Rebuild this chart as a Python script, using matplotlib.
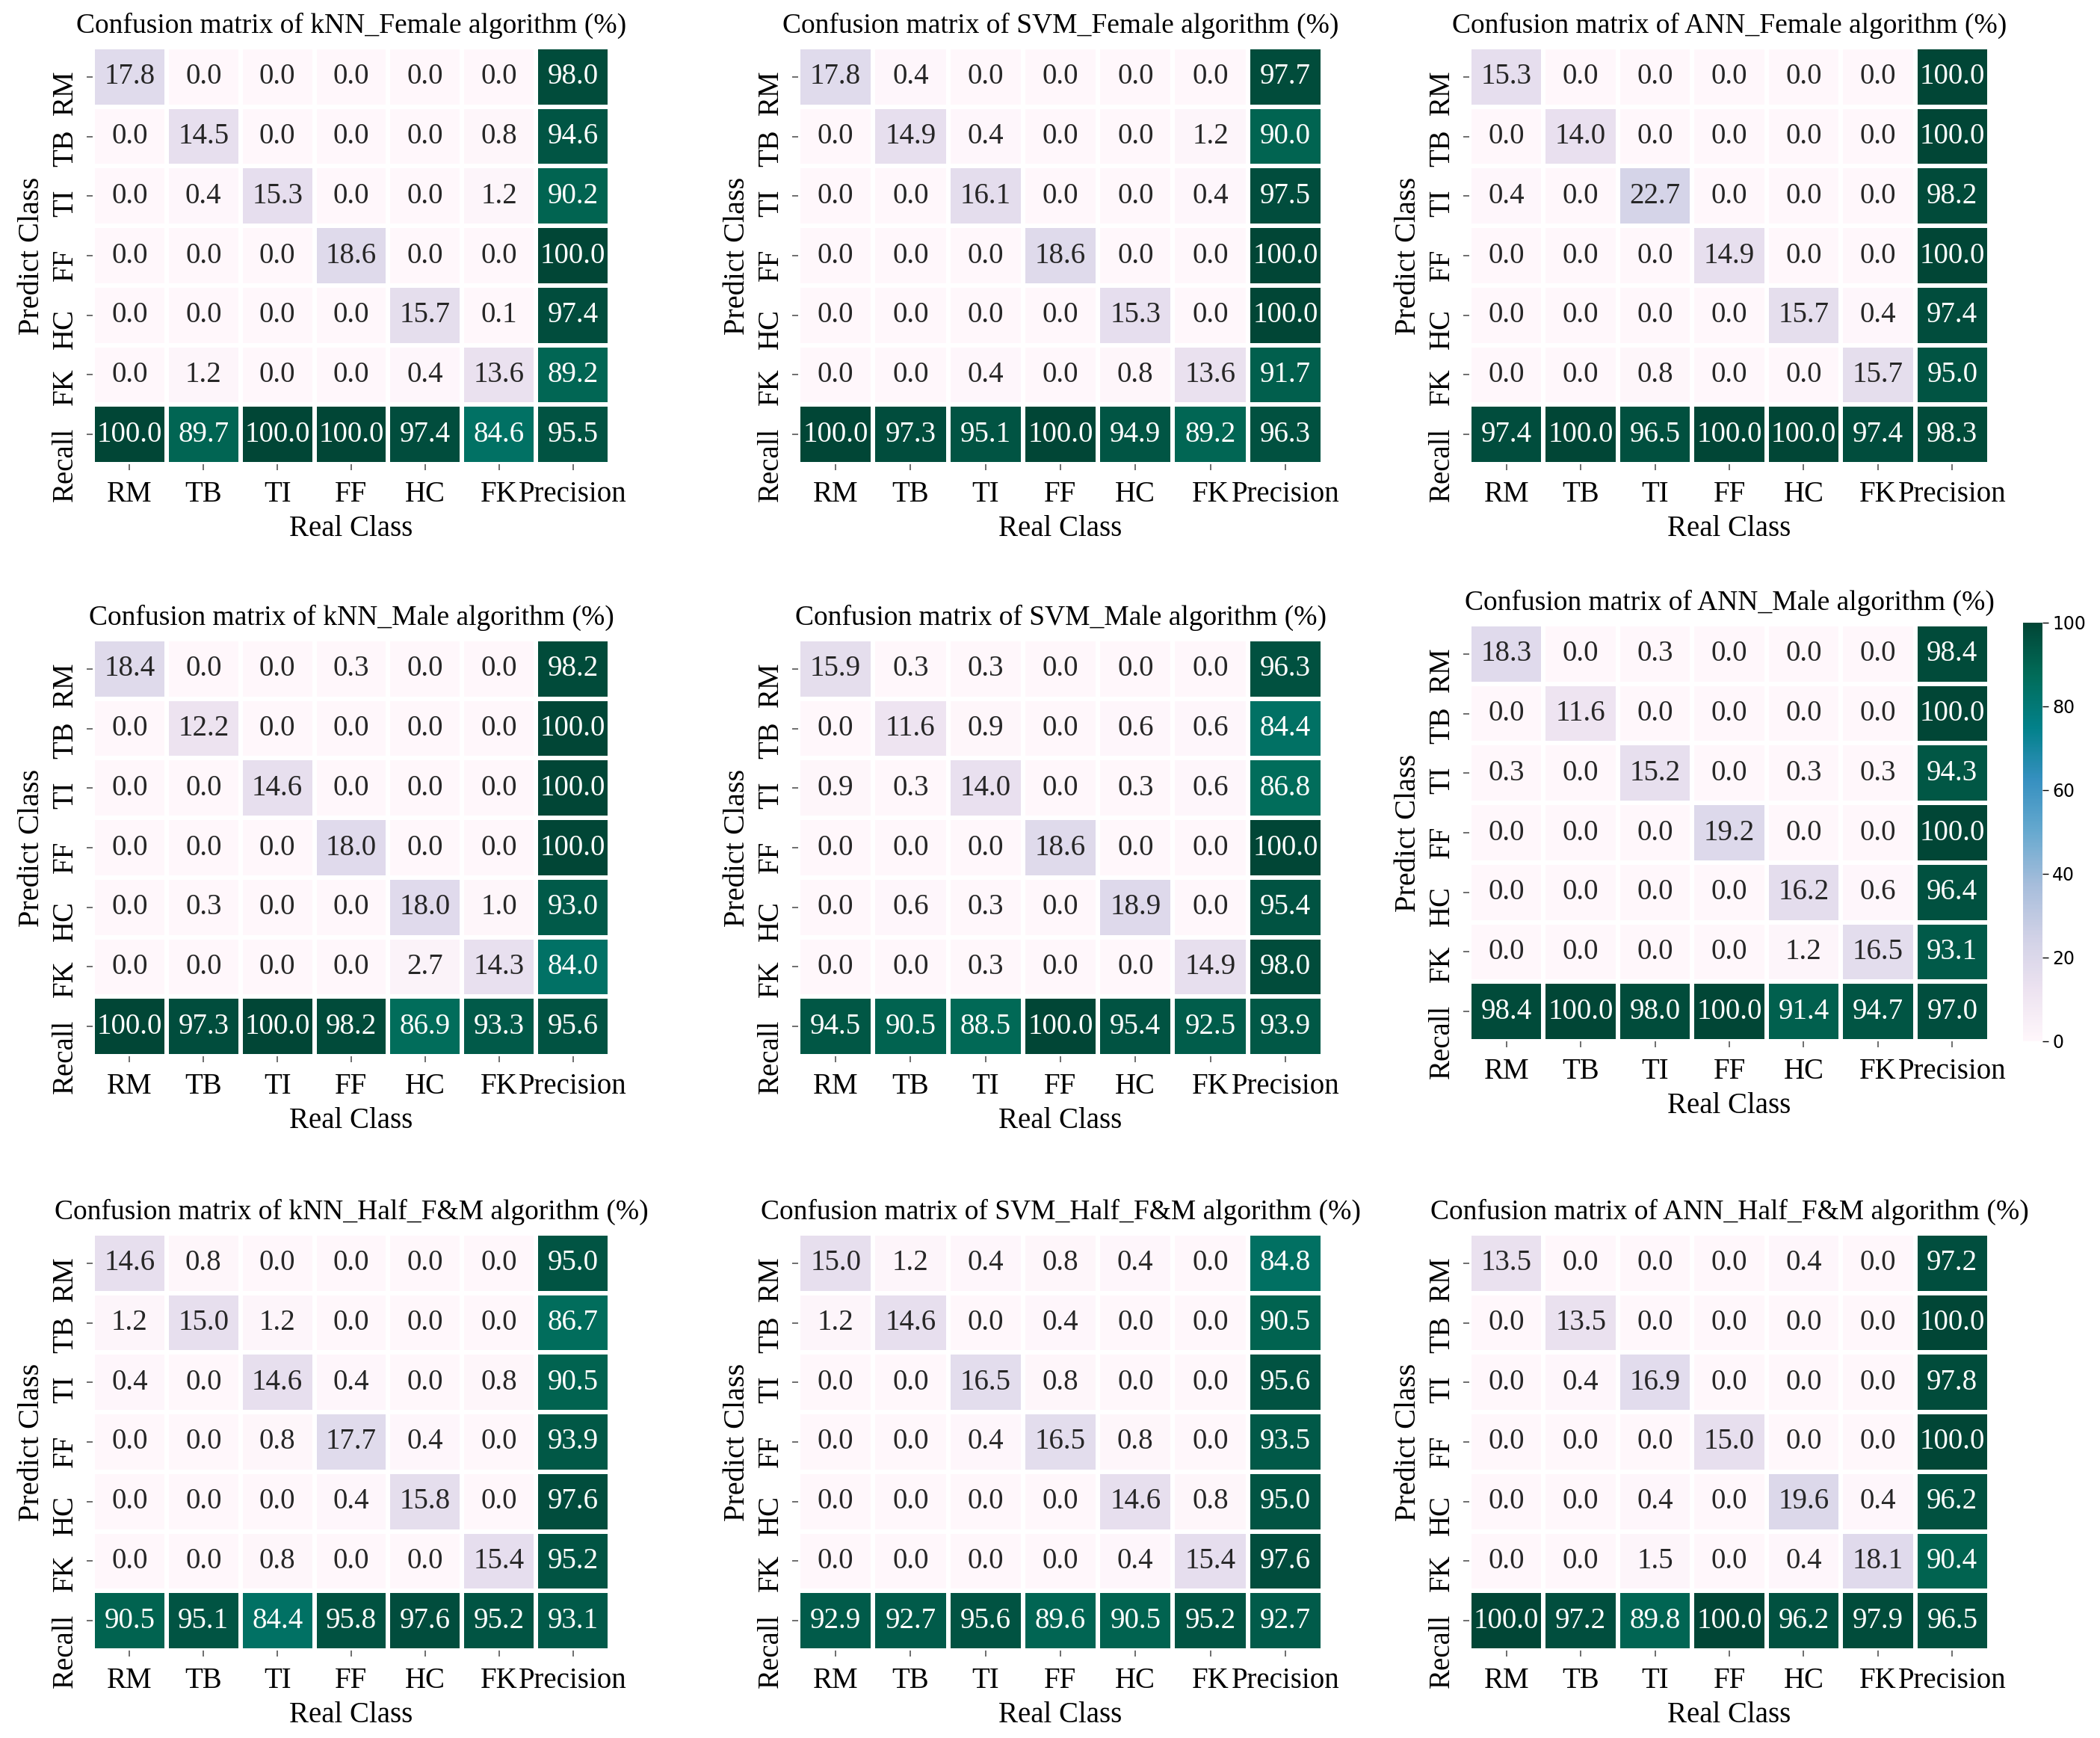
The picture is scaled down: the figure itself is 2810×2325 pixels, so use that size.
import numpy as np
import matplotlib
matplotlib.use("Agg")
import matplotlib.pyplot as plt
import matplotlib.transforms as mtransforms
import seaborn as sns

# ---------- Data (%), rows = predicted class + Recall, cols = real class + Precision ----------
row_labels = ["RM", "TB", "TI", "FF", "HC", "FK", "Recall"]
col_labels = ["RM", "TB", "TI", "FF", "HC", "FK", "Precision"]

knn_female = [
    [17.8, 0.0, 0.0, 0.0, 0.0, 0.0, 98.0],
    [0.0, 14.5, 0.0, 0.0, 0.0, 0.8, 94.6],
    [0.0, 0.4, 15.3, 0.0, 0.0, 1.2, 90.2],
    [0.0, 0.0, 0.0, 18.6, 0.0, 0.0, 100.0],
    [0.0, 0.0, 0.0, 0.0, 15.7, 0.1, 97.4],
    [0.0, 1.2, 0.0, 0.0, 0.4, 13.6, 89.2],
    [100.0, 89.7, 100.0, 100.0, 97.4, 84.6, 95.5],
]
svm_female = [
    [17.8, 0.4, 0.0, 0.0, 0.0, 0.0, 97.7],
    [0.0, 14.9, 0.4, 0.0, 0.0, 1.2, 90.0],
    [0.0, 0.0, 16.1, 0.0, 0.0, 0.4, 97.5],
    [0.0, 0.0, 0.0, 18.6, 0.0, 0.0, 100.0],
    [0.0, 0.0, 0.0, 0.0, 15.3, 0.0, 100.0],
    [0.0, 0.0, 0.4, 0.0, 0.8, 13.6, 91.7],
    [100.0, 97.3, 95.1, 100.0, 94.9, 89.2, 96.3],
]
ann_female = [
    [15.3, 0.0, 0.0, 0.0, 0.0, 0.0, 100.0],
    [0.0, 14.0, 0.0, 0.0, 0.0, 0.0, 100.0],
    [0.4, 0.0, 22.7, 0.0, 0.0, 0.0, 98.2],
    [0.0, 0.0, 0.0, 14.9, 0.0, 0.0, 100.0],
    [0.0, 0.0, 0.0, 0.0, 15.7, 0.4, 97.4],
    [0.0, 0.0, 0.8, 0.0, 0.0, 15.7, 95.0],
    [97.4, 100.0, 96.5, 100.0, 100.0, 97.4, 98.3],
]
knn_male = [
    [18.4, 0.0, 0.0, 0.3, 0.0, 0.0, 98.2],
    [0.0, 12.2, 0.0, 0.0, 0.0, 0.0, 100.0],
    [0.0, 0.0, 14.6, 0.0, 0.0, 0.0, 100.0],
    [0.0, 0.0, 0.0, 18.0, 0.0, 0.0, 100.0],
    [0.0, 0.3, 0.0, 0.0, 18.0, 1.0, 93.0],
    [0.0, 0.0, 0.0, 0.0, 2.7, 14.3, 84.0],
    [100.0, 97.3, 100.0, 98.2, 86.9, 93.3, 95.6],
]
svm_male = [
    [15.9, 0.3, 0.3, 0.0, 0.0, 0.0, 96.3],
    [0.0, 11.6, 0.9, 0.0, 0.6, 0.6, 84.4],
    [0.9, 0.3, 14.0, 0.0, 0.3, 0.6, 86.8],
    [0.0, 0.0, 0.0, 18.6, 0.0, 0.0, 100.0],
    [0.0, 0.6, 0.3, 0.0, 18.9, 0.0, 95.4],
    [0.0, 0.0, 0.3, 0.0, 0.0, 14.9, 98.0],
    [94.5, 90.5, 88.5, 100.0, 95.4, 92.5, 93.9],
]
ann_male = [
    [18.3, 0.0, 0.3, 0.0, 0.0, 0.0, 98.4],
    [0.0, 11.6, 0.0, 0.0, 0.0, 0.0, 100.0],
    [0.3, 0.0, 15.2, 0.0, 0.3, 0.3, 94.3],
    [0.0, 0.0, 0.0, 19.2, 0.0, 0.0, 100.0],
    [0.0, 0.0, 0.0, 0.0, 16.2, 0.6, 96.4],
    [0.0, 0.0, 0.0, 0.0, 1.2, 16.5, 93.1],
    [98.4, 100.0, 98.0, 100.0, 91.4, 94.7, 97.0],
]
knn_half = [
    [14.6, 0.8, 0.0, 0.0, 0.0, 0.0, 95.0],
    [1.2, 15.0, 1.2, 0.0, 0.0, 0.0, 86.7],
    [0.4, 0.0, 14.6, 0.4, 0.0, 0.8, 90.5],
    [0.0, 0.0, 0.8, 17.7, 0.4, 0.0, 93.9],
    [0.0, 0.0, 0.0, 0.4, 15.8, 0.0, 97.6],
    [0.0, 0.0, 0.8, 0.0, 0.0, 15.4, 95.2],
    [90.5, 95.1, 84.4, 95.8, 97.6, 95.2, 93.1],
]
svm_half = [
    [15.0, 1.2, 0.4, 0.8, 0.4, 0.0, 84.8],
    [1.2, 14.6, 0.0, 0.4, 0.0, 0.0, 90.5],
    [0.0, 0.0, 16.5, 0.8, 0.0, 0.0, 95.6],
    [0.0, 0.0, 0.4, 16.5, 0.8, 0.0, 93.5],
    [0.0, 0.0, 0.0, 0.0, 14.6, 0.8, 95.0],
    [0.0, 0.0, 0.0, 0.0, 0.4, 15.4, 97.6],
    [92.9, 92.7, 95.6, 89.6, 90.5, 95.2, 92.7],
]
ann_half = [
    [13.5, 0.0, 0.0, 0.0, 0.4, 0.0, 97.2],
    [0.0, 13.5, 0.0, 0.0, 0.0, 0.0, 100.0],
    [0.0, 0.4, 16.9, 0.0, 0.0, 0.0, 97.8],
    [0.0, 0.0, 0.0, 15.0, 0.0, 0.0, 100.0],
    [0.0, 0.0, 0.4, 0.0, 19.6, 0.4, 96.2],
    [0.0, 0.0, 1.5, 0.0, 0.4, 18.1, 90.4],
    [100.0, 97.2, 89.8, 100.0, 96.2, 97.9, 96.5],
]

panel_names = ["kNN_Female", "SVM_Female", "ANN_Female",
               "kNN_Male", "SVM_Male", "ANN_Male",
               "kNN_Half_F&M", "SVM_Half_F&M", "ANN_Half_F&M"]
panel_data = [knn_female, svm_female, ann_female,
              knn_male, svm_male, ann_male,
              knn_half, svm_half, ann_half]

# ---------- Layout (pixel boxes of each heatmap: left, top, right, bottom) ----------
W, H = 2810, 2325
boxes = [
    (124, 63, 816, 621), (1068, 63, 1770, 621), (1966, 63, 2662, 621),
    (124, 855, 816, 1413), (1068, 855, 1770, 1413), (1966, 835, 2662, 1393),
    (124, 1650, 816, 2208), (1068, 1650, 1770, 2208), (1966, 1650, 2662, 2208),
]
cbar_box = (2707, 833, 2733, 1393)


def frac(box):
    l, t, r, b = box
    return [l / W, 1 - b / H, (r - l) / W, (b - t) / H]


plt.rcParams['font.family'] = ['Liberation Serif', 'DejaVu Serif']

fig = plt.figure(figsize=(W / 100, H / 100), dpi=100)
# y labels hang from just above the tick, like the original
ylab_shift = mtransforms.ScaledTranslation(0, 9 / 100, fig.dpi_scale_trans)

for i, (name, data) in enumerate(zip(panel_names, panel_data)):
    ax = fig.add_axes(frac(boxes[i]))
    with_cbar = (name == "ANN_Male")
    cax = fig.add_axes(frac(cbar_box)) if with_cbar else None
    sns.heatmap(np.array(data), ax=ax, cmap="PuBuGn", vmin=0, vmax=100,
                annot=True, fmt=".1f", annot_kws={"size": 28},
                linewidths=3, linecolor="white",
                cbar=with_cbar, cbar_ax=cax,
                xticklabels=col_labels, yticklabels=row_labels)
    ax.set_title(f"Confusion matrix of {name} algorithm (%)", fontsize=27, pad=14)
    ax.set_xlabel("Real Class", fontsize=28, labelpad=6)
    ax.set_ylabel("Predict Class", fontsize=29, labelpad=6)
    ax.set_xticklabels(col_labels, rotation=0, fontsize=28)
    ax.set_yticklabels(row_labels, rotation=90, va="top", fontsize=28)
    ax.tick_params(axis="both", length=6, width=1.2, color="#555555")
    ax.tick_params(axis="x", pad=10)
    ax.tick_params(axis="y", pad=7)
    for t in ax.get_yticklabels():
        t.set_transform(t.get_transform() + ylab_shift)
    if with_cbar:
        cax.tick_params(length=6, width=1, labelsize=17)
        cax.set_yticks([0, 20, 40, 60, 80, 100])
        for t in cax.get_yticklabels():
            t.set_fontfamily("DejaVu Sans")

fig.savefig("out.png", dpi=100, facecolor="white")
